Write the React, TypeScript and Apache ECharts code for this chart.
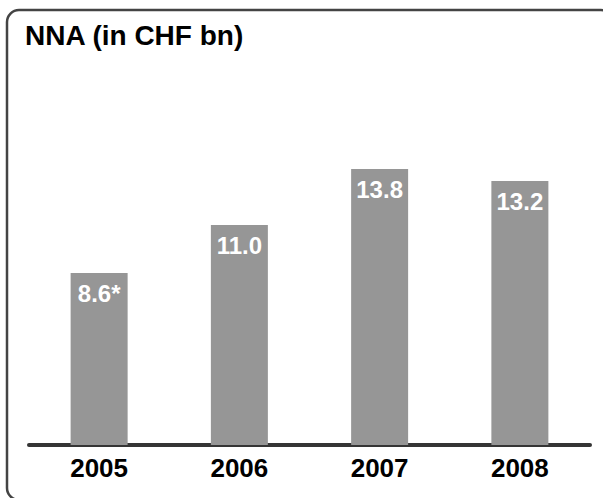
import React, { useEffect, useRef } from "react";
import * as echarts from "echarts";

const categories = ["2005", "2006", "2007", "2008"];
const values = [8.6, 11.0, 13.8, 13.2];
const valueLabels = ["8.6*", "11.0", "13.8", "13.2"];
const titleText = "NNA (in CHF bn)";

export default function App() {
  const ref = useRef<HTMLDivElement>(null);
  useEffect(() => {
    if (!ref.current) return;
    const chart = echarts.init(ref.current, undefined, { renderer: "svg" });
    chart.setOption({
      animation: false,
      backgroundColor: "#ffffff",
      title: {
        text: titleText,
        left: 20,
        top: 16,
        textStyle: {
          fontFamily: "Liberation Sans, Arial, sans-serif",
          fontWeight: "bold",
          fontSize: 28,
          color: "#000000",
        },
      },
      graphic: [
        {
          type: "rect",
          shape: { x: 7, y: 10, width: 606, height: 490, r: 12 },
          style: { fill: "none", stroke: "#444444", lineWidth: 2.5 },
          silent: true,
          z: 10,
        },
      ],
      grid: { left: 29, right: 13, top: 145, bottom: 53 },
      xAxis: {
        type: "category",
        data: categories,
        axisLine: { show: true, lineStyle: { color: "#353535", width: 4 } },
        axisTick: { show: false },
        axisLabel: {
          margin: 10,
          fontFamily: "Liberation Sans, Arial, sans-serif",
          fontWeight: "bold",
          fontSize: 26,
          color: "#000000",
        },
      },
      yAxis: {
        type: "value",
        min: 0,
        max: 15,
        show: false,
        splitLine: { show: false },
      },
      series: [
        {
          type: "bar",
          data: values,
          barWidth: 57,
          itemStyle: { color: "#969696" },
          label: {
            show: true,
            position: "insideTop",
            distance: 8,
            formatter: (p: any) => valueLabels[p.dataIndex],
            fontFamily: "Liberation Sans, Arial, sans-serif",
            fontWeight: "bold",
            fontSize: 24,
            color: "#ffffff",
          },
        },
      ],
    });
    return () => chart.dispose();
  }, []);
  return (
    <div
      ref={ref}
      style={{ position: "fixed", left: 0, top: 0, width: 603, height: 498 }}
    />
  );
}
